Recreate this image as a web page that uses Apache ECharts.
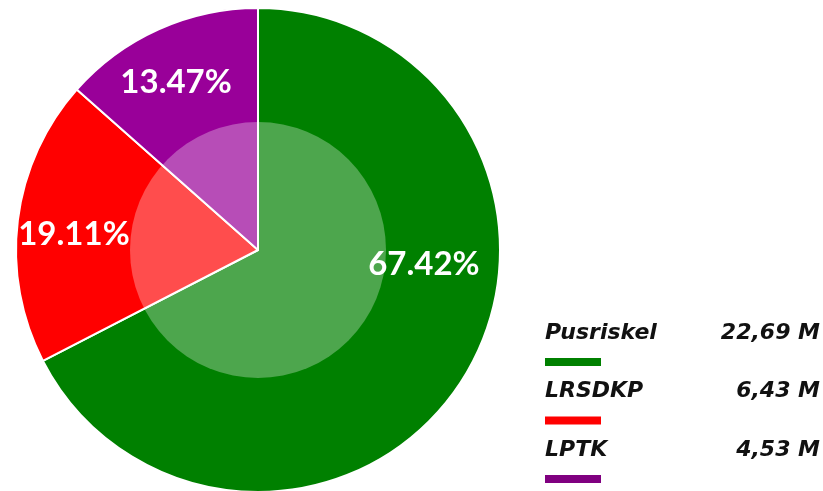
<!DOCTYPE html>
<html>
<head>
<meta charset="utf-8">
<script src="https://cdn.jsdelivr.net/npm/echarts@6/dist/echarts.min.js"></script>
<style>
html, body { margin: 0; padding: 0; background: #fff; }
#container { width: 823px; height: 491px; }
</style>
</head>
<body>
<div id="container"></div>
<script>
var names = ['Pusriskel', 'LRSDKP', 'LPTK'];
var percents = [67.42, 19.11, 13.47];
var valueLabels = ['22,69 M', '6,43 M', '4,53 M'];
var colors = ['#008000', '#ff0000', '#990099'];
var legendColors = ['#008000', '#ff0000', '#800080'];
// nudges so the labels sit where the original puts them
var labelOffsets = [[60, -50], [-61, 0], [-31, -55]];

var myChart = echarts.init(document.getElementById('container'));

var pieData = names.map(function (n, i) {
    return {
        name: n,
        value: percents[i],
        itemStyle: { color: colors[i] },
        label: { offset: labelOffsets[i] }
    };
});

var legendFont = 'oblique bold 22px "DejaVu Sans"';
var legendGraphics = [];
names.forEach(function (n, i) {
    var y = 336 + i * 58.5;
    legendGraphics.push({
        type: 'text', left: 545, top: y - 14,
        style: { text: n, font: legendFont, fill: '#111' }
    });
    legendGraphics.push({
        type: 'text', right: 3, top: y - 14,
        style: { text: valueLabels[i], font: legendFont, fill: '#111', textAlign: 'right' }
    });
    legendGraphics.push({
        type: 'rect', left: 545, top: y + 22,
        shape: { width: 56, height: 8 },
        style: { fill: legendColors[i] }
    });
});

var option = {
    animation: false,
    series: [
        {
            type: 'pie',
            center: [258, 250],
            radius: [0, 242],
            startAngle: 90,
            clockwise: true,
            itemStyle: { borderColor: '#fff', borderWidth: 2 },
            label: {
                position: 'inside',
                formatter: function (p) { return p.value.toFixed(2) + '%'; },
                color: '#fff',
                fontFamily: 'Lato',
                fontWeight: 'bold',
                fontSize: 33
            },
            labelLine: { show: false },
            emphasis: { disabled: true },
            data: pieData,
            z: 1
        },
        {
            type: 'pie',
            center: [258, 250],
            radius: [0, 128],
            silent: true,
            label: { show: false },
            labelLine: { show: false },
            itemStyle: { color: 'rgba(255,255,255,0.3)' },
            data: [{ value: 1 }],
            z: 2
        }
    ],
    graphic: legendGraphics
};

myChart.setOption(option, true);
window.onresize = function () {
    myChart.resize();
};
</script>
</body>
</html>
